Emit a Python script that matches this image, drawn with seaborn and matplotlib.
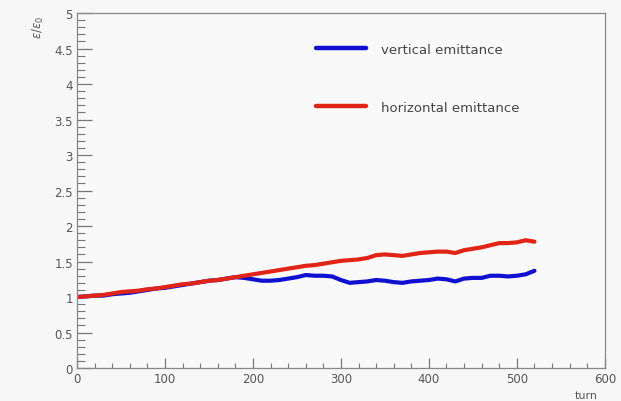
import numpy as np
import pandas as pd
import matplotlib
matplotlib.use("Agg")
import matplotlib.pyplot as plt
from matplotlib.ticker import MultipleLocator
import seaborn as sns

turns = list(range(0, 530, 10))

horizontal = [1.00, 1.01, 1.02, 1.03, 1.05, 1.07, 1.08, 1.09, 1.11, 1.12,
              1.14, 1.16, 1.18, 1.19, 1.21, 1.23, 1.24, 1.26, 1.28, 1.30,
              1.32, 1.34, 1.36, 1.38, 1.40, 1.42, 1.44, 1.45, 1.47, 1.49,
              1.51, 1.52, 1.53, 1.55, 1.59, 1.60, 1.59, 1.58, 1.60, 1.62,
              1.63, 1.64, 1.64, 1.62, 1.66, 1.68, 1.70, 1.73, 1.76, 1.76,
              1.77, 1.80, 1.78]

vertical = [1.00, 1.01, 1.02, 1.02, 1.04, 1.05, 1.06, 1.08, 1.10, 1.12,
            1.13, 1.15, 1.17, 1.19, 1.21, 1.23, 1.24, 1.26, 1.28, 1.27,
            1.25, 1.23, 1.23, 1.24, 1.26, 1.28, 1.31, 1.30, 1.30, 1.29,
            1.24, 1.20, 1.21, 1.22, 1.24, 1.23, 1.21, 1.20, 1.22, 1.23,
            1.24, 1.26, 1.25, 1.22, 1.26, 1.27, 1.27, 1.30, 1.30, 1.29,
            1.30, 1.32, 1.37]

series_names = ["vertical emittance", "horizontal emittance"]
series_colors = ["#1010d0", "#e02418"]
ytick_labels = ["0", "0.5", "1", "1.5", "2", "2.5", "3", "3.5", "4", "4.5", "5"]

df = pd.DataFrame({
    "turn": turns * 2,
    "ratio": vertical + horizontal,
    "series": [series_names[0]] * len(turns) + [series_names[1]] * len(turns),
})

sns.set_style("white")
plt.rcParams["font.family"] = ["DejaVu Sans"]

fig = plt.figure(figsize=(6.21, 4.02), dpi=100, facecolor="#f7f7f7")
ax = fig.add_axes([0.124, 0.082, 0.850, 0.883])
ax.set_facecolor("#f9f9f9")

sns.lineplot(data=df, x="turn", y="ratio", hue="series", hue_order=series_names,
             palette=dict(zip(series_names, series_colors)), linewidth=3.0,
             ax=ax, legend=True)

ax.set_xlim(0, 600)
ax.set_ylim(0, 5)
ax.xaxis.set_major_locator(MultipleLocator(100))
ax.xaxis.set_minor_locator(MultipleLocator(20))
ax.set_yticks(np.arange(0, 5.01, 0.5))
ax.set_yticklabels(ytick_labels)
ax.yaxis.set_minor_locator(MultipleLocator(0.1))
ax.tick_params(which="both", left=True, bottom=True, top=False, right=False,
               direction="in", color="#777777")
ax.tick_params(which="major", width=0.9, labelsize=8.5, labelcolor="#555555", pad=3)
ax.tick_params(which="minor", width=0.8)
ax.tick_params(axis="y", which="major", length=11)
ax.tick_params(axis="y", which="minor", length=5.5)
ax.tick_params(axis="x", which="major", length=7.5)
ax.tick_params(axis="x", which="minor", length=3.8)
for side in ["left", "bottom", "top", "right"]:
    ax.spines[side].set_color("#888888")
    ax.spines[side].set_linewidth(0.9)

ax.set_xlabel("")
ax.set_ylabel("")
fig.text(0.962, 0.003, "turn", fontsize=8, color="#555555", ha="right", va="bottom")
fig.text(0.062, 0.96, r"$\epsilon/\epsilon_0$", fontsize=8.5, color="#555555",
         rotation=90, ha="center", va="top")

leg = ax.legend(loc="upper left", bbox_to_anchor=(0.43, 0.95), frameon=False,
                fontsize=9.5, labelspacing=3.4, handlelength=3.8, handletextpad=1.1,
                title=None)
for t in leg.get_texts():
    t.set_color("#444444")
for h in leg.get_lines():
    h.set_linewidth(3.2)

fig.savefig("out.png", dpi=100, facecolor=fig.get_facecolor())
